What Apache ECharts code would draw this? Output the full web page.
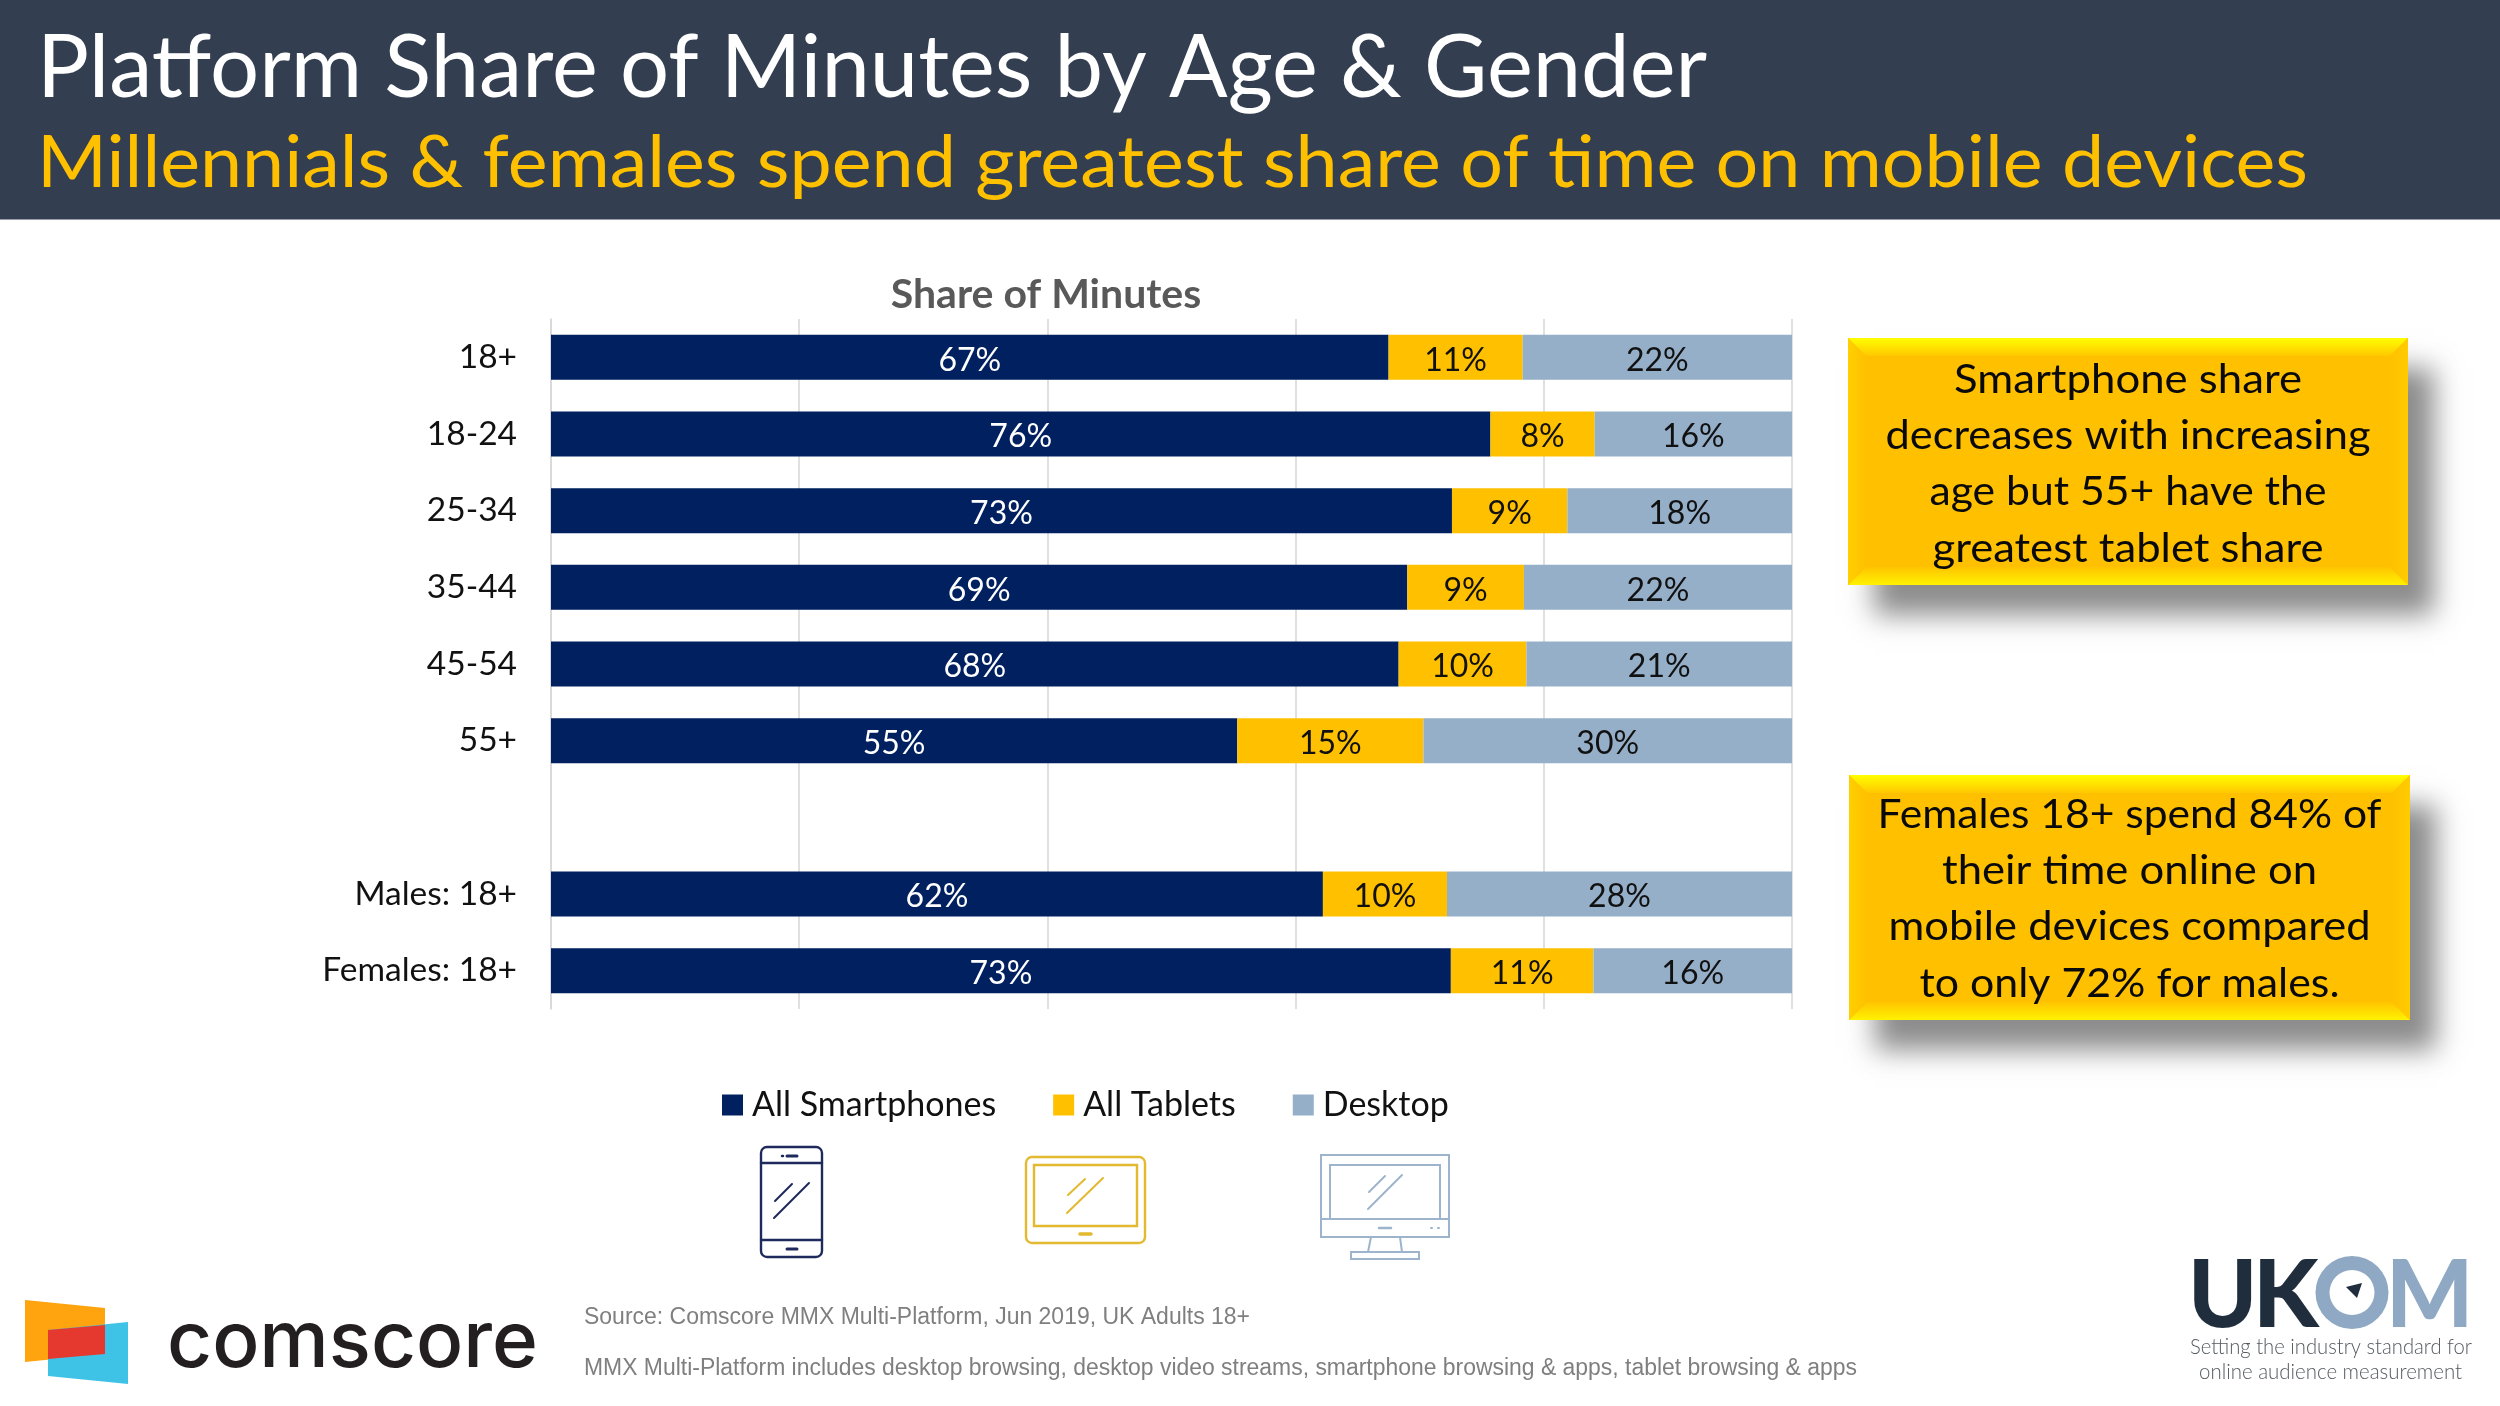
<!DOCTYPE html>
<html><head><meta charset="utf-8">
<style>html,body{margin:0;padding:0;background:#fff}#c{width:2500px;height:1406px}</style>
<script src="https://cdn.jsdelivr.net/npm/echarts@6/dist/echarts.min.js"></script>
</head><body><div id="c"></div>
<script>
const categories = ['18+','18-24','25-34','35-44','45-54','55+','','Males: 18+','Females: 18+'];
const smartphones = [67.49,75.7,72.6,69.0,68.3,55.3,null,62.2,72.51];
const tablets     = [10.81, 8.4, 9.3, 9.4,10.3,15.0,null,10.0,11.49];
const desktop     = [21.7,15.9,18.1,21.6,21.4,29.7,null,27.8,16.0];
const seriesNames = ['All Smartphones','All Tablets','Desktop'];
const titleText = 'Platform Share of Minutes by Age & Gender';
const subtitleText = 'Millennials & females spend greatest share of time on mobile devices';
const chartTitle = 'Share of Minutes';
const note1 = ['Smartphone share','decreases with increasing','age but 55+ have the','greatest tablet share'];
const note2 = ['Females 18+ spend 84% of','their time online on','mobile devices compared','to only 72% for males.'];
const source1 = 'Source: Comscore MMX Multi-Platform, Jun 2019, UK Adults 18+';
const source2 = 'MMX Multi-Platform includes desktop browsing, desktop video streams, smartphone browsing & apps, tablet browsing & apps';

const NAVY='#002060', GOLD='#FFC000', STEEL='#95AFC9';
const F='Lato, "Noto Sans", sans-serif';
const mc=document.createElement('canvas').getContext('2d');
function T(text,x,base,size,family,fill,w,opt){
  opt=opt||{};
  const weight=opt.weight||'normal';
  mc.font=weight+' '+size+'px '+family;
  mc.textBaseline='middle';
  const tm=mc.measureText(text);
  const d=mc.measureText('H').actualBoundingBoxDescent;
  let m=tm.width, ex=x;
  if(opt.ink){ m=tm.actualBoundingBoxLeft+tm.actualBoundingBoxRight; }
  const sx=w?w/m:1;
  if(opt.ink){ ex=x+tm.actualBoundingBoxLeft*sx; }
  const align=opt.align||'left';
  return {type:'text',silent:true,z:opt.z||20,x:ex,y:base-d,scaleX:sx,scaleY:1,
    style:{text:text,x:0,y:0,fill:fill,fontSize:size,fontFamily:family,fontWeight:weight,
      textAlign:align,textVerticalAlign:'middle',opacity:opt.opacity==null?1:opt.opacity}};
}
function L(x1,y1,x2,y2,c,w){return {type:'line',silent:true,z:15,shape:{x1,y1,x2,y2},style:{stroke:c,lineWidth:w||2,lineCap:'round'}};}
function R(x,y,w,h,c,lw,r){return {type:'rect',silent:true,z:15,shape:{x,y,width:w,height:h,r:r||0},style:{fill:'none',stroke:c,lineWidth:lw||2}};}
function P(pts,fill,z){return {type:'polygon',silent:true,z:z||15,shape:{points:pts},style:{fill:fill}};}
function grad(x0,y0,x2,y2,a,b){return new echarts.graphic.LinearGradient(x0,y0,x2,y2,[{offset:0,color:a},{offset:1,color:b}]);}

function callout(x,y,w,h,lines,widths,firstBase){
  const b=18, out=[];
  out.push({type:'rect',silent:true,z:10,shape:{x,y,width:w,height:h},
    style:{fill:GOLD,shadowBlur:26,shadowOffsetX:26,shadowOffsetY:30,shadowColor:'rgba(70,70,70,0.62)'}});
  out.push(P([[x,y],[x+w,y],[x+w-b,y+b],[x+b,y+b]],grad(0,0,0,1,'#FFFF00','#FFC800'),11));
  out.push(P([[x,y+h],[x+w,y+h],[x+w-b,y+h-b],[x+b,y+h-b]],grad(0,1,0,0,'#FFF200','#FFC400'),11));
  out.push(P([[x,y],[x+b,y+b],[x+b,y+h-b],[x,y+h]],grad(0,0,1,0,'#FFD000','#FFC000'),11));
  out.push(P([[x+w,y],[x+w-b,y+b],[x+w-b,y+h-b],[x+w,y+h]],grad(1,0,0,0,'#FFCC00','#FFC000'),11));
  lines.forEach((t,i)=>out.push(T(t,x+w/2,firstBase+i*56.2,40,F,'#0a0a0a',widths[i],{align:'center'})));
  return out;
}

const graphics=[
  {type:'rect',silent:true,z:1,shape:{x:0,y:0,width:2500,height:219.5},style:{fill:'#333F50'}},
  T(titleText,37,97,87,F,'#FFFFFF',1670),
  T(subtitleText,37,187,71,F,GOLD,2271),
  // phone icon
  R(761,1147,61,110,'#1F2A5C',2.4,6),L(761,1163,822,1163,'#1F2A5C',2.4),L(761,1240,822,1240,'#1F2A5C',2.4),
  L(787,1156,797,1156,'#1F2A5C',3),L(782,1156,783,1156,'#1F2A5C',2.5),L(787,1249,797,1249,'#1F2A5C',3),
  L(792,1184,775,1201,'#1F2A5C',2),L(809,1183,774,1218,'#1F2A5C',2),
  // tablet icon
  R(1026,1157,119,86,'#E3B92F',2.4,6),R(1034,1165,103,61,'#E3B92F',2.4),L(1080,1234,1091,1234,'#E3B92F',3.5),
  L(1085,1179,1068,1195,'#E3B92F',2),L(1103,1178,1067,1213,'#E3B92F',2),
  // desktop icon
  R(1321,1155,128,82,'#9DB4CC',2),R(1330,1165,110,54,'#9DB4CC',2),L(1321,1219,1449,1219,'#9DB4CC',2),
  L(1379,1228,1391,1228,'#9DB4CC',2.5),L(1431,1228,1432,1228,'#9DB4CC',2),L(1438,1228,1439,1228,'#9DB4CC',2),
  L(1371,1237,1368,1252,'#9DB4CC',2),L(1400,1237,1402,1252,'#9DB4CC',2),R(1351,1252,68,7,'#9DB4CC',2),
  L(1385,1176,1369,1192,'#9DB4CC',2),L(1402,1175,1368,1209,'#9DB4CC',2),
  // comscore logo
  P([[25,1300],[105,1308],[105,1354],[25,1362]],'#FFA30F'),
  P([[48,1330],[128,1322],[128,1384],[48,1376]],'#3EC3E6'),
  P([[48,1330],[105,1325],[105,1354],[48,1359]],'#E5392F',16),
  T('comscore',167,1367,78,'Inter, Lato, sans-serif','#231F20',371,{weight:500}),
  // source
  T(source1,584,1324,23,'"Liberation Sans", Arial, sans-serif','#7F7F7F',666),
  T(source2,584,1375,23,'"Liberation Sans", Arial, sans-serif','#7F7F7F',1273),
  // UKOM logo
  T('U',2194,1327,93,F,'#1F2D3D',58,{weight:900,ink:true}),
  T('K',2260,1327,93,F,'#1F2D3D',60,{weight:900,ink:true}),
  {type:'ring',silent:true,z:15,shape:{cx:2352,cy:1292.5,r:36.5,r0:22.5},style:{fill:'#8FA9C4'}},
  P([[2346,1287],[2362,1283],[2357,1298]],'#1F2D3D'),
  T('M',2393,1327,93,F,'#8FA9C4',74,{weight:900,ink:true}),
  T('Setting the industry standard for',2190,1354,21,F,'#555A60',282,{weight:300}),
  T('online audience measurement',2199,1379,21,F,'#555A60',263,{weight:300})
].concat(
  callout(1848,338,560,247,note1,[348,485,397,391],393),
  callout(1849,775,561,245,note2,[504,375,482,420],828)
);

const seriesColors=[NAVY,GOLD,STEEL], seriesData=[smartphones,tablets,desktop], labelColors=['#FFFFFF','#111111','#111111'];
const option={
  animation:false,
  backgroundColor:'#fff',
  title:{text:chartTitle,left:1046,top:274,padding:0,textAlign:'center',
    textStyle:{fontFamily:F,fontSize:41,fontWeight:700,color:'#595959'}},
  legend:{left:722,top:1088,padding:0,itemWidth:21,itemHeight:21,itemGap:57,icon:'rect',
    data:seriesNames,textStyle:{fontFamily:F,fontSize:34,color:'#111',padding:[0,0,0,4]},itemStyle:{borderWidth:0}},
  grid:{left:551,right:708,top:319,bottom:397,containLabel:false},
  xAxis:{type:'value',min:0,max:100,interval:20,axisLabel:{show:false},axisTick:{show:false},axisLine:{show:false},
    splitLine:{show:true,lineStyle:{color:'#D9D9D9',width:1.6}}},
  yAxis:{type:'category',inverse:true,data:categories,axisTick:{show:false},
    axisLine:{show:true,lineStyle:{color:'#D9D9D9',width:1.6}},
    axisLabel:{fontFamily:F,fontSize:33.5,color:'#111',margin:34,interval:0,padding:[10,0,0,0]}},
  series:seriesNames.map((n,i)=>({
    name:n,type:'bar',stack:'share',barWidth:45,data:seriesData[i],
    itemStyle:{color:seriesColors[i]},
    label:{show:true,position:'inside',offset:[0,3],fontFamily:F,fontSize:32,color:labelColors[i],
      formatter:p=>Math.round(p.value)+'%'}
  })),
  graphic:graphics
};
const chart=echarts.init(document.getElementById('c'),null,{renderer:'canvas',width:2500,height:1406});
chart.setOption(option);
</script></body></html>
